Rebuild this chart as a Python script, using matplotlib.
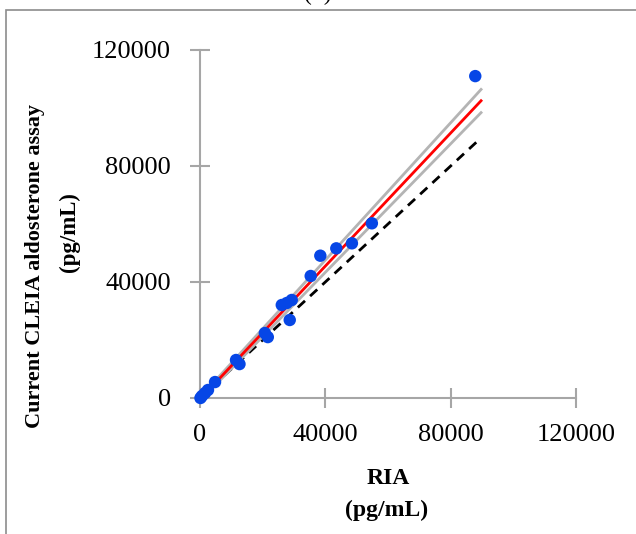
import numpy as np
import matplotlib.pyplot as plt
import matplotlib.patches as patches

# measured points (RIA vs current CLEIA), pg/mL
ria = [150, 640, 1600, 2550, 4800, 11500, 12600, 20700, 21640, 28640,
       26100, 27700, 29280, 35330, 38400, 43500, 48480, 54850, 87850]
cleia = [0, 690, 1700, 2760, 5500, 13100, 11700, 22400, 21000, 26900,
         32070, 32760, 33800, 42070, 49070, 51600, 53340, 60240, 111000]

# regression line and confidence band end values
fit_x = [0, 89700]
fit_y = [-400, 102500]
band_hi = [200, 106400]
band_lo = [-1000, 98400]
ident = [0, 89000]

ticks = [0, 40000, 80000, 120000]

plt.rcParams['font.family'] = ['Liberation Serif', 'DejaVu Serif']

fig = plt.figure(figsize=(6.36, 5.34), dpi=100)
ax = fig.add_axes([200/636, 1-398/534, 376/636, 348/534])

ax.plot(ident, ident, color='black', ls=(0, (3.5, 2.5)), lw=2, zorder=2)
ax.plot(fit_x, band_hi, color='#b4b4b4', lw=2, zorder=2)
ax.plot(fit_x, band_lo, color='#b4b4b4', lw=2, zorder=2)
ax.plot(fit_x, fit_y, color='#ff0000', lw=2, zorder=3)
ax.scatter(ria, cleia, s=80, color='#0646e6', edgecolors='none', zorder=4, clip_on=False)

ax.set_xlim(0, 120000)
ax.set_ylim(0, 120000)
ax.set_xticks(ticks)
ax.set_yticks(ticks)
ax.set_xticklabels([str(t) for t in ticks])
ax.set_yticklabels([str(t) for t in ticks])
for s in ['top', 'right']:
    ax.spines[s].set_visible(False)
for s in ['left', 'bottom']:
    ax.spines[s].set_color('#a6a6a6')
    ax.spines[s].set_linewidth(1.5)
ax.tick_params(direction='inout', length=14, width=1.5, color='#a6a6a6',
               labelsize=19)
ax.tick_params(axis='x', pad=12)
ax.tick_params(axis='y', pad=14)

fig.text(35/636, 1-266/534, 'Current CLEIA aldosterone assay', rotation=90,
         ha='center', va='center', fontsize=16, fontweight='bold')
fig.text(69/636, 1-232/534, '(pg/mL)', rotation=90,
         ha='center', va='center', fontsize=16.5, fontweight='bold')
fig.text(388/636, 1-479/534, 'RIA', ha='center', va='center',
         fontsize=17, fontweight='bold')
fig.text(387/636, 1-510/534, '(pg/mL)', ha='center', va='center',
         fontsize=17, fontweight='bold')

# panel letter, cut off at top edge
fig.text(318/636, 1.0, '(b)', ha='center', va='baseline', fontsize=17)

# outer frame
fig.add_artist(patches.Rectangle((5.5/636, -0.1), 1.2, 1.1 - 10/534,
                                 transform=fig.transFigure, fill=False,
                                 edgecolor='#8c8c8c', lw=1.2))

fig.savefig('out.png', dpi=100)
